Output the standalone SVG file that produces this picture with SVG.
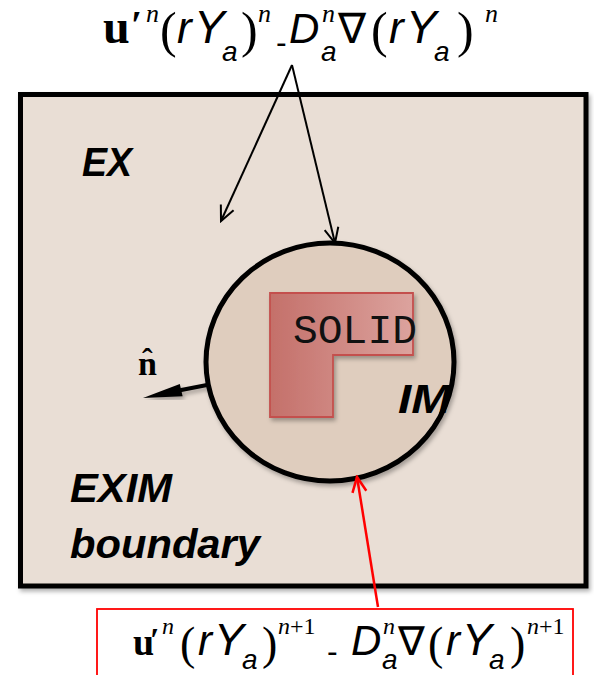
<svg xmlns="http://www.w3.org/2000/svg" width="594" height="675" viewBox="0 0 594 675">
  <defs>
    <filter id="shadow" x="-10%" y="-10%" width="120%" height="120%">
      <feDropShadow dx="2" dy="3" stdDeviation="2" flood-color="#000" flood-opacity="0.3"/>
    </filter>
    <linearGradient id="solidGrad" x1="0" y1="0" x2="1" y2="0">
      <stop offset="0" stop-color="#c4706a"/>
      <stop offset="1" stop-color="#dca39e"/>
    </linearGradient>
    <marker id="openBlack" markerUnits="userSpaceOnUse" markerWidth="20" markerHeight="20" viewBox="0 0 20 20" refX="18" refY="10" orient="auto">
      <path d="M3,3 L18,10 L3,17" fill="none" stroke="#000" stroke-width="2"/>
    </marker>
    <marker id="openRed" markerUnits="userSpaceOnUse" markerWidth="20" markerHeight="20" viewBox="0 0 20 20" refX="18" refY="10" orient="auto">
      <path d="M3,3 L18,10 L3,17" fill="none" stroke="#ff0000" stroke-width="2.5"/>
    </marker>
    <style>
      .lbl { font-family: "Liberation Sans", Arial, sans-serif; font-weight: bold; font-style: italic; font-size: 40px; fill: #000; }
      .ser { font-family: "Liberation Serif", "Times New Roman", serif; }
      .san { font-family: "Liberation Sans", Arial, sans-serif; }
      .it { font-style: italic; }
      .bd { font-weight: bold; }
      .eq { fill: #000; font-family: "Liberation Serif", "Times New Roman", serif; }
    </style>
  </defs>

  <g id="domain">
    <rect x="20.5" y="94.5" width="565.5" height="491.5" fill="#e9ded5" stroke="#000" stroke-width="5" filter="url(#shadow)"/>
  </g>

  <g id="im-region">
    <ellipse cx="330" cy="362" rx="124" ry="119" fill="#dfcdbe" stroke="#000" stroke-width="5" filter="url(#shadow)"/>
  </g>

  <g id="solid">
    <path d="M270,293 L413,293 L413,355 L333,355 L333,417 L270,417 Z" fill="url(#solidGrad)" stroke="#c4504d" stroke-width="1.8" filter="url(#shadow)"/>
    <text x="293" y="343" font-family="'Liberation Mono', 'Courier New', monospace" font-size="40" textLength="124" lengthAdjust="spacingAndGlyphs" fill="#111">SOLID</text>
  </g>

  <g id="labels">
    <text class="lbl" x="82" y="176" textLength="50" lengthAdjust="spacingAndGlyphs">EX</text>
    <text class="lbl" x="398" y="413" textLength="53" lengthAdjust="spacingAndGlyphs">IM</text>
    <text class="lbl" x="70" y="502" textLength="102" lengthAdjust="spacingAndGlyphs">EXIM</text>
    <text class="lbl" x="70" y="558" textLength="190" lengthAdjust="spacingAndGlyphs">boundary</text>
  </g>

  <g id="normal">
    <text class="ser bd" font-size="34" fill="#000"><tspan x="138" y="375">n</tspan><tspan x="142" y="370" font-size="32">ˆ</tspan></text>
  </g>

  <g id="connectors">
    <line x1="292" y1="65" x2="221" y2="221" stroke="#000" stroke-width="2" marker-end="url(#openBlack)"/>
    <line x1="292" y1="65" x2="335" y2="243" stroke="#000" stroke-width="2" marker-end="url(#openBlack)"/>
    <line x1="378" y1="607" x2="357" y2="477" stroke="#ff0000" stroke-width="2.5" marker-end="url(#openRed)"/>
    <g filter="url(#shadow)">
      <line x1="207" y1="385" x2="180" y2="390.3" stroke="#000" stroke-width="4"/>
      <polygon points="143,398 182.6,396.2 179.8,384" fill="#000"/>
    </g>
  </g>

  <g id="explicit-flux">
    <text class="eq"><tspan x="103" y="43" font-size="48" font-weight="bold">u</tspan><tspan x="131" y="38" font-size="40" font-weight="bold">′</tspan><tspan x="146" y="22" font-size="26" font-style="italic">n</tspan><tspan x="160" y="47" font-size="50">(</tspan><tspan x="177" y="43" font-size="44" class="san it">r</tspan><tspan x="194" y="43" font-size="46" class="san it">Y</tspan><tspan x="222" y="61" font-size="28" class="san it">a</tspan><tspan x="241" y="47" font-size="50">)</tspan><tspan x="258" y="22" font-size="26" font-style="italic">n</tspan><tspan x="276" y="53" font-size="32" class="san">-</tspan><tspan x="289" y="43" font-size="42" class="san it">D</tspan><tspan x="322" y="22" font-size="26" font-style="italic">n</tspan><tspan x="321" y="61" font-size="28" class="san it">a</tspan><tspan x="338" y="43" font-size="42">∇</tspan><tspan x="371" y="47" font-size="50">(</tspan><tspan x="389" y="43" font-size="44" class="san it">r</tspan><tspan x="406" y="43" font-size="46" class="san it">Y</tspan><tspan x="434" y="61" font-size="28" class="san it">a</tspan><tspan x="457" y="47" font-size="50">)</tspan><tspan x="485" y="22" font-size="26" font-style="italic">n</tspan></text>
  </g>

  <g id="implicit-flux">
    <rect x="97" y="609" width="476" height="80" fill="#fff" stroke="#ff0000" stroke-width="1.8"/>
    <text class="eq"><tspan x="133" y="655" font-size="38" font-weight="bold">u</tspan><tspan x="150" y="651" font-size="34" font-weight="bold">′</tspan><tspan x="162" y="634" font-size="24" font-style="italic">n</tspan><tspan x="180" y="659" font-size="46">(</tspan><tspan x="198" y="655" font-size="42" class="san it">r</tspan><tspan x="214" y="655" font-size="45" class="san it">Y</tspan><tspan x="242" y="669" font-size="28" class="san it">a</tspan><tspan x="262" y="659" font-size="46">)</tspan><tspan x="278" y="634" font-size="24"><tspan font-style="italic">n</tspan>+1</tspan><tspan x="327" y="662" font-size="32" class="san">-</tspan><tspan x="351" y="655" font-size="42" class="san it">D</tspan><tspan x="383" y="634" font-size="24" font-style="italic">n</tspan><tspan x="382" y="669" font-size="28" class="san it">a</tspan><tspan x="398" y="655" font-size="40">∇</tspan><tspan x="428" y="659" font-size="46">(</tspan><tspan x="446" y="655" font-size="42" class="san it">r</tspan><tspan x="462" y="655" font-size="45" class="san it">Y</tspan><tspan x="489" y="669" font-size="28" class="san it">a</tspan><tspan x="510" y="659" font-size="46">)</tspan><tspan x="527" y="634" font-size="24"><tspan font-style="italic">n</tspan>+1</tspan></text>
  </g>
</svg>
